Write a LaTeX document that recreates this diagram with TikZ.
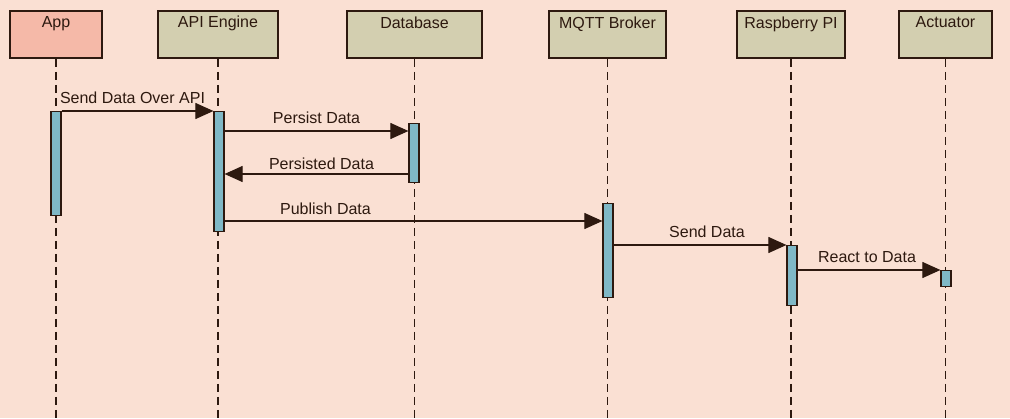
\documentclass[tikz,border=0pt]{standalone}
\usepackage{fontspec}
\setmainfont{Liberation Sans}
\usetikzlibrary{arrows.meta}
\definecolor{bgcol}{RGB}{250,224,211}
\definecolor{appcol}{RGB}{245,185,168}
\definecolor{partcol}{RGB}{211,207,176}
\definecolor{actcol}{RGB}{127,184,198}
\definecolor{inkcol}{RGB}{45,25,15}
\tikzset{
  part/.style={draw=inkcol, line width=1.6pt, fill=partcol, minimum height=47pt,
    inner sep=0pt},
  parttext/.style={anchor=north, text=inkcol, font=\fontsize{16}{19}\selectfont},
  lifeline/.style={draw=inkcol, line width=1.3pt, dash pattern=on 8pt off 5pt},
  actbox/.style={draw=inkcol, line width=1.2pt, fill=actcol, minimum width=10pt, inner sep=0pt},
  msg/.style={draw=inkcol, line width=1.1pt, -{Triangle[length=18pt,width=16pt]}},
  msglabel/.style={above, yshift=5pt, text=inkcol, inner sep=2pt, font=\fontsize{16}{19}\selectfont}
}
\begin{document}
\begin{tikzpicture}[x=1pt,y=-1pt]
  \fill[bgcol] (0,0) rectangle (1010,418);
  \useasboundingbox (0,0) rectangle (1010,418);
  % participants
  \draw
    (56,34.5) node[part, fill=appcol, minimum width=92pt] (app){}
    (218,34.5) node[part, minimum width=120pt] (api){}
    (414.5,34.5) node[part, minimum width=135pt] (db){}
    (607.5,34.5) node[part, minimum width=117pt] (mqtt){}
    (791,34.5) node[part, minimum width=108pt] (rpi){}
    (945.5,34.5) node[part, minimum width=93pt] (act){};
  \node[parttext] at ([yshift=-3pt]app.north) {App};
  \node[parttext] at ([yshift=-2pt]api.north) {API Engine};
  \node[parttext] at ([yshift=-3pt]db.north) {Database};
  \node[parttext] at ([yshift=-3pt]mqtt.north) {MQTT Broker};
  \node[parttext] at ([yshift=-3pt]rpi.north) {Raspberry PI};
  \node[parttext] at ([yshift=-3pt]act.north) {Actuator};
  % lifelines
  \begin{scope}[lifeline]
    \draw (app.south) -- (app.south |- 0,418);
    \draw (api.south) -- (api.south |- 0,418);
    \draw (db.south) -- (db.south |- 0,418);
    \draw (mqtt.south) -- (mqtt.south |- 0,418);
    \draw (rpi.south) -- (rpi.south |- 0,418);
    \draw (act.south) -- (act.south |- 0,418);
  \end{scope}
  % activations
  \node[actbox, anchor=north, minimum height=104pt] (appbar) at (56,111) {};
  \node[actbox, anchor=north, minimum height=120pt] (apibar) at (219,111) {};
  \node[actbox, anchor=north, minimum height=59pt] (dbbar) at (414,123) {};
  \node[actbox, anchor=north, minimum height=94pt] (mqttbar) at (608,203) {};
  \node[actbox, anchor=north, minimum height=60pt] (rpibar) at (792,245) {};
  \node[actbox, anchor=north, minimum height=16pt] (actbar) at (946,270) {};
  % messages
  \draw[msg] (appbar.east |- 0,111) -- node[msglabel, xshift=-5pt] {Send Data Over API} (apibar.west |- 0,111);
  \draw[msg] (apibar.east |- 0,131) -- node[msglabel] {Persist Data} (dbbar.west |- 0,131);
  \draw[msg] (dbbar.west |- 0,174) -- node[msglabel, yshift=-3pt, xshift=5pt] {Persisted Data} (apibar.east |- 0,174);
  \draw[msg] (apibar.east |- 0,221) -- node[msglabel, yshift=-1pt, xshift=-88pt] {Publish Data} (mqttbar.west |- 0,221);
  \draw[msg] (mqttbar.east |- 0,245) -- node[msglabel, xshift=7pt] {Send Data} (rpibar.west |- 0,245);
  \draw[msg] (rpibar.east |- 0,270) -- node[msglabel, xshift=-2pt] {React to Data} (actbar.west |- 0,270);
\end{tikzpicture}
\end{document}
